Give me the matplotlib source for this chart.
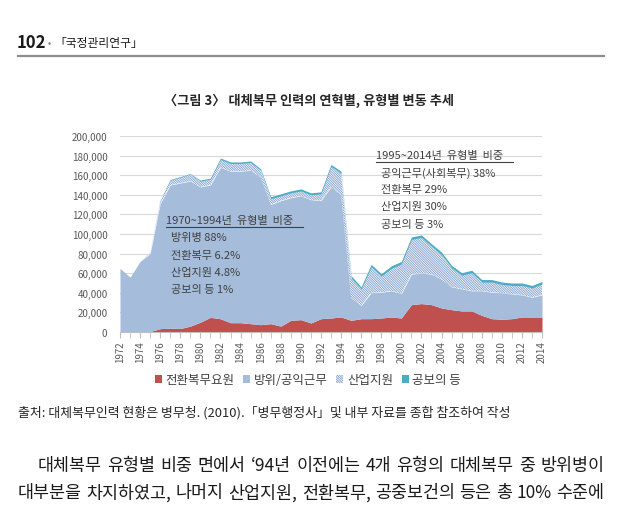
import numpy as np
import matplotlib
matplotlib.use('Agg')
import matplotlib.pyplot as plt
from matplotlib.lines import Line2D
from matplotlib.patches import Patch

plt.rcParams['font.family'] = ['Noto Sans CJK KR', 'DejaVu Sans']
plt.rcParams['hatch.linewidth'] = 0.7

years = list(range(1972, 2015))
series_names = ['전환복무요원', '방위/공익근무', '산업지원', '공보의 등']

conversion = [0, 0, 0, 500, 3400, 4000, 3500, 6000, 10000, 15000,
              13500, 9500, 9500, 8500, 7500, 8500, 6000, 11900, 12600, 9200,
              13600, 14300, 15300, 11900, 13600, 13600, 14300, 15300, 14300, 27900,
              29000, 27900, 24500, 22800, 21500, 21500, 17000, 13600, 13000, 13600,
              15300, 15300, 15300]
defense = [65000, 56000, 72000, 79500, 127600, 146000, 148500, 148000, 138000, 135000,
           154500, 154500, 154500, 156500, 150500, 121500, 128000, 125100, 126400, 125800,
           120400, 133700, 124700, 23100, 13400, 26400, 26200, 26700, 24700, 31100,
           31000, 31100, 29500, 23200, 22500, 20500, 25000, 26900, 26800, 25200,
           22500, 20100, 22500]
industrial = [0, 0, 0, 1000, 2000, 5000, 6000, 7000, 6000, 6000,
              8000, 8000, 8000, 8000, 7000, 6000, 5000, 5000, 5000, 5000,
              7000, 21000, 22000, 20000, 17000, 26500, 16500, 23000, 30500, 35500,
              36500, 28500, 25000, 19500, 14000, 18500, 9000, 10500, 8700, 8700,
              9700, 9600, 11200]
doctors = [0, 0, 0, 0, 500, 500, 500, 500, 1000, 1000,
           1500, 1500, 1500, 1500, 1500, 2000, 2000, 2000, 2000, 2000,
           2000, 2000, 2000, 2500, 2000, 2500, 2500, 2500, 2500, 2500,
           2500, 2500, 2500, 2500, 2500, 2500, 2500, 2500, 2500, 2500,
           2500, 2500, 2500]

y_ticks = list(range(0, 200001, 20000))
x_tick_years = list(range(1972, 2015, 2))

left_box_title = '1970~1994년  유형별  비중'
left_box_lines = ['방위병 88%', '전환복무 6.2%', '산업지원 4.8%', '공보의 등 1%']
right_box_title = '1995~2014년  유형별  비중'
right_box_lines = ['공익근무(사회복무) 38%', '전환복무 29%', '산업지원 30%', '공보의 등 3%']

header_num = '102'
header_journal = '「국정관리연구」'
fig_title = '〈그림 3〉 대체복무 인력의 연혁별, 유형별 변동 추세'
source_text = '출처: 대체복무인력 현황은 병무청. (2010).「병무행정사」및 내부 자료를 종합 참조하여 작성'
body_line1 = '대체복무 유형별 비중 면에서 ‘94년 이전에는 4개 유형의 대체복무 중 방위병이'
body_line2 = '대부분을 차지하였고, 나머지 산업지원, 전환복무, 공중보건의 등은 총 10% 수준에'

RED = '#C0504D'
BLUE = '#A5BCDB'
HATCH = '#8AA6D0'
HATCH_PAT = '\\' * 14
TEAL = '#4BACC6'
TXT = '#404040'

W, H = 617, 506
fig = plt.figure(figsize=(W / 100, H / 100), dpi=100)


def fx(x):
    return x / W


def fy(y):
    return 1 - y / H


ax = fig.add_axes([fx(120), fy(333), (542 - 120) / W, (333 - 137) / H])

x = np.array(years)
c1 = np.array(conversion, dtype=float)
c2 = c1 + np.array(defense)
c3 = c2 + np.array(industrial)
c4 = c3 + np.array(doctors)

ax.fill_between(x, 0, c1, color=RED, lw=0, zorder=2)
ax.fill_between(x, c1, c2, color=BLUE, lw=0, zorder=2)
ax.fill_between(x, c2, c3, facecolor='white', edgecolor=HATCH, hatch=HATCH_PAT, lw=0, zorder=2)
ax.fill_between(x, c3, c4, color=TEAL, lw=0, zorder=2)

ax.set_xlim(1972, 2014)
ax.set_ylim(0, 200000)
ax.set_yticks(y_ticks)
ax.set_yticklabels([f'{v:,}' for v in y_ticks])
ax.set_xticks(x_tick_years)
ax.set_xticklabels([str(v) for v in x_tick_years], rotation=90)
ax.set_xticks(years, minor=True)
ax.yaxis.grid(True, color='#D9D9D9', lw=0.8)
ax.set_axisbelow(True)
for s in ['top', 'right', 'left']:
    ax.spines[s].set_visible(False)
ax.spines['bottom'].set_color('#BFBFBF')
ax.spines['bottom'].set_zorder(3)
ax.tick_params(axis='y', length=0, pad=9, labelsize=7, labelcolor='#595959')
ax.tick_params(axis='x', which='both', length=4, color='#BFBFBF', direction='out',
               labelsize=7, labelcolor='#595959', pad=2)

# annotations
fig.text(fx(166), fy(221), left_box_title, fontsize=8, color=TXT, va='center', ha='left')
fig.add_artist(Line2D([fx(166), fx(303)], [fy(228), fy(228)], color=TXT, lw=0.8))
for i, s in enumerate(left_box_lines):
    fig.text(fx(171), fy(238 + i * 17.5), s, fontsize=8, color=TXT, va='center', ha='left')

fig.text(fx(376), fy(156), right_box_title, fontsize=8, color=TXT, va='center', ha='left')
fig.add_artist(Line2D([fx(376), fx(513)], [fy(163), fy(163)], color=TXT, lw=0.8))
for i, s in enumerate(right_box_lines):
    fig.text(fx(381), fy(173 + i * 17.2), s, fontsize=8, color=TXT, va='center', ha='left')

# legend
handles = [Patch(facecolor=RED, lw=0),
           Patch(facecolor=BLUE, lw=0),
           Patch(facecolor='white', edgecolor=HATCH, hatch=HATCH_PAT, lw=0),
           Patch(facecolor=TEAL, lw=0)]
fig.legend(handles, series_names, loc='center', bbox_to_anchor=(fx(308), fy(381)),
           ncol=4, frameon=False, fontsize=9, handlelength=0.55, handleheight=0.55,
           handletextpad=0.3, columnspacing=0.7, labelcolor=TXT)

# page header
fig.text(fx(17), fy(43), header_num, fontsize=12, fontweight='bold', color='#1a1a1a',
         va='center', ha='left')
fig.text(fx(48), fy(44), '•', fontsize=7, color='#808080', va='center', ha='left')
fig.text(fx(54), fy(43), header_journal, fontsize=8.5, color='#1a1a1a', va='center', ha='left')
fig.add_artist(Line2D([fx(18), fx(604)], [fy(57), fy(57)], color='#8C8C8C', lw=1.6))

fig.text(fx(309), fy(101), fig_title, fontsize=9.5, fontweight='bold', color='#262626',
         va='center', ha='center')

fig.text(fx(18), fy(413), source_text, fontsize=9.3, color='#262626', va='center', ha='left')

renderer = fig.canvas.get_renderer()


def justify(text, x0, x1, y, fs):
    words = text.split(' ')
    arts = [fig.text(0, fy(y), w, fontsize=fs, color='#1a1a1a', va='center', ha='left') for w in words]
    widths = [a.get_window_extent(renderer).width for a in arts]
    gap = (x1 - x0 - sum(widths)) / (len(words) - 1)
    pos = x0
    for a, w in zip(arts, widths):
        a.set_x(fx(pos))
        pos += w + gap


justify(body_line1, 38, 604, 466, 12.5)
justify(body_line2, 18, 604, 493, 12.5)

fig.savefig('out.png', dpi=100)
